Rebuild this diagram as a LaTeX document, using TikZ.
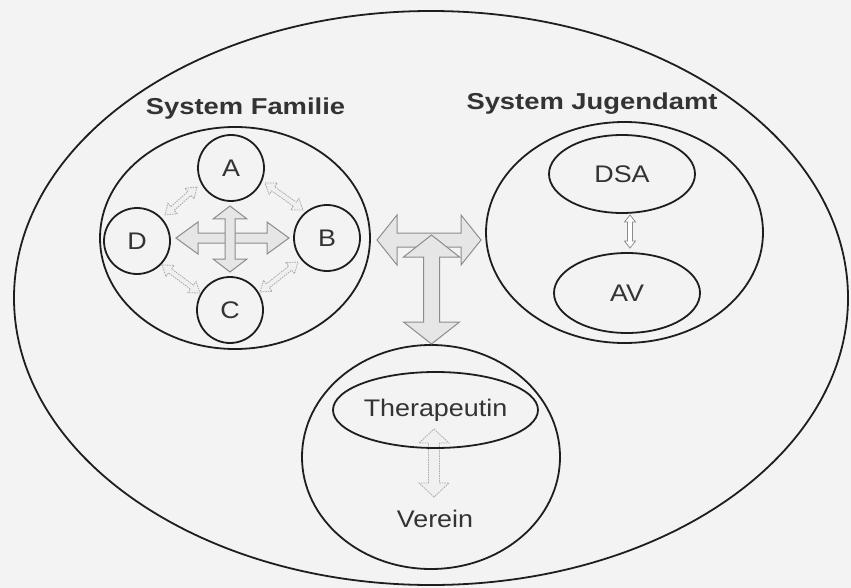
\documentclass[tikz,border=0pt]{standalone}
\usepackage{fontspec}
\setmainfont{Liberation Sans}[FakeStretch=1.12]
\newfontfamily\ttlfont{Liberation Sans}[FakeStretch=1.19]
\usetikzlibrary{shapes.geometric,calc}
\definecolor{bg}{HTML}{F3F3F3}
\definecolor{ink}{HTML}{1E1E1E}
\definecolor{txt}{HTML}{333333}
\definecolor{afill}{HTML}{E6E6E6}
\definecolor{aline}{HTML}{8C8C8C}
\newcommand{\fatarrow}[6][]{%
\draw[#1] let \p1=(#2), \p2=(#3), \n1={atan2(\y2-\y1,\x2-\x1)} in
 (\p1) -- ($(\p1)+(\n1:#6)+(\n1+90:#5)$) -- ($(\p1)+(\n1:#6)+(\n1+90:#4)$)
 -- ($(\p2)+(\n1:-#6)+(\n1+90:#4)$) -- ($(\p2)+(\n1:-#6)+(\n1+90:#5)$)
 -- (\p2) -- ($(\p2)+(\n1:-#6)+(\n1-90:#5)$) -- ($(\p2)+(\n1:-#6)+(\n1-90:#4)$)
 -- ($(\p1)+(\n1:#6)+(\n1-90:#4)$) -- ($(\p1)+(\n1:#6)+(\n1-90:#5)$) -- cycle;}
\tikzset{
 sys/.style={draw=ink, line width=1.8pt, ellipse, inner sep=0pt},
 mem/.style={draw=ink, line width=1.8pt, circle, minimum size=66pt, inner sep=0pt, font=\fontsize{24}{24}\selectfont, text=txt},
 lbl/.style={font=\fontsize{24}{24}\selectfont, text=txt},
 ttl/.style={font=\ttlfont\bfseries\fontsize{23}{23}\selectfont, text=txt, anchor=base},
 bigarrow/.style={fill=afill, draw=aline, line width=1pt, line join=miter},
 smallarrow/.style={fill=afill!60, draw=aline!75, line width=0.8pt, dash pattern=on 1.5pt off 1pt},
 thinarrow/.style={fill=white, draw=aline, line width=0.8pt},
}
\begin{document}
\begin{tikzpicture}[x=1pt,y=-1pt]
\useasboundingbox (0,0) rectangle (851,588);
\fill[bg] (0,0) rectangle (851,588);
% systems
\node[sys, minimum width=834pt, minimum height=574pt] (world) at (431,298) {};
\node[sys, minimum width=270pt, minimum height=222pt] (fam) at (235,238) {};
\node[sys, minimum width=277pt, minimum height=221pt] (jug) at (624.5,232.5) {};
\node[sys, minimum width=258pt, minimum height=224pt] (ver) at (431,457) {};
% titles
\node[ttl] (tfam) at (245.5,115) {System Familie};
\node[ttl] (tjug) at (592,110) {System Jugendamt};
% family members
\node[mem] (A) at (231,168) {A};
\node[mem] (B) at (327,238) {B};
\node[mem] (C) at (230,310) {C};
\node[mem] (D) at (137,241) {D};
% Jugendamt
\node[sys, lbl, minimum width=146pt, minimum height=78pt] (DSA) at (622,174) {DSA};
\node[sys, lbl, minimum width=146pt, minimum height=80pt] (AV) at (627,293) {AV};
% arrow end points
\coordinate (fch1) at (176,238); \coordinate (fch2) at (289,238);
\coordinate (fcv1) at (230,206); \coordinate (fcv2) at (230,272);
\coordinate (ad1) at (197,187); \coordinate (ad2) at (165,215);
\coordinate (ab1) at (265,183); \coordinate (ab2) at (303,210);
\coordinate (dc1) at (162,265); \coordinate (dc2) at (200,293);
\coordinate (bc1) at (298,262); \coordinate (bc2) at (260,292);
\coordinate (ch1) at (377,240); \coordinate (ch2) at (481,240);
\coordinate (cv1) at (431.5,235); \coordinate (cv2) at (431.5,344);
\coordinate (da1) at (630,215); \coordinate (da2) at (630,248);
\coordinate (tv1) at (434,429); \coordinate (tv2) at (434,497);
% Verein (arrow below the ellipse outline)
\fatarrow[smallarrow]{tv1}{tv2}{5.5pt}{15pt}{14pt}
\node[sys, lbl, minimum width=205pt, minimum height=76pt] (ther) at (435.5,410) {Therapeutin};
\node[lbl] (verein) at (435,519) {Verein};
% family arrows
\fatarrow[smallarrow]{ad1}{ad2}{2.5pt}{7pt}{10pt}
\fatarrow[smallarrow]{ab1}{ab2}{2.5pt}{7pt}{10pt}
\fatarrow[smallarrow]{dc1}{dc2}{2.5pt}{7pt}{10pt}
\fatarrow[smallarrow]{bc1}{bc2}{2.5pt}{7pt}{10pt}
\fatarrow[bigarrow]{fch1}{fch2}{5pt}{16pt}{22pt}
\fatarrow[bigarrow]{fcv1}{fcv2}{5pt}{17pt}{13pt}
% central arrows
\fatarrow[bigarrow]{ch1}{ch2}{7pt}{25pt}{20pt}
\fatarrow[bigarrow]{cv1}{cv2}{8pt}{28pt}{22pt}
% inner arrows
\fatarrow[thinarrow]{da1}{da2}{2.5pt}{5.5pt}{7pt}
\end{tikzpicture}
\end{document}
